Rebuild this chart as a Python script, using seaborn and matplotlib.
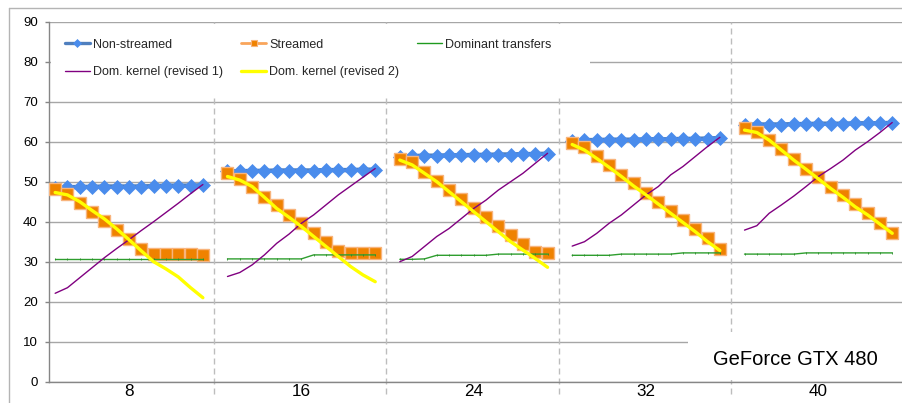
import numpy as np
import pandas as pd
import matplotlib
matplotlib.use("Agg")
import matplotlib.pyplot as plt
from matplotlib.lines import Line2D
from matplotlib.patches import Rectangle
import seaborn as sns

# ---- data -------------------------------------------------------------
GROUP_LABELS = ["8", "16", "24", "32", "40"]
POINTS_PER_GROUP = 13

NON_STREAMED = [
    [48.5, 48.6, 48.7, 48.7, 48.8, 48.8, 48.8, 48.8, 48.9, 49.0, 49.0, 49.0, 49.1],
    [52.6, 52.6, 52.7, 52.7, 52.8, 52.8, 52.8, 52.8, 52.9, 52.9, 52.9, 53.0, 53.0],
    [56.3, 56.4, 56.5, 56.5, 56.6, 56.6, 56.7, 56.7, 56.8, 56.8, 56.9, 56.9, 57.0],
    [60.3, 60.4, 60.4, 60.5, 60.5, 60.5, 60.6, 60.6, 60.6, 60.7, 60.7, 60.8, 60.9],
    [64.2, 64.3, 64.3, 64.3, 64.4, 64.4, 64.5, 64.5, 64.5, 64.6, 64.6, 64.6, 64.7],
]
STREAMED = [
    [48.3, 46.9, 44.6, 42.5, 40.3, 37.9, 35.8, 33.3, 32.0, 32.0, 32.0, 32.0, 31.7],
    [52.1, 50.7, 48.6, 46.3, 44.1, 41.8, 39.6, 37.2, 35.0, 32.8, 32.1, 32.1, 32.1],
    [55.8, 55.0, 52.5, 50.2, 47.9, 45.7, 43.5, 41.3, 39.0, 36.8, 34.4, 32.5, 32.1],
    [59.8, 58.8, 56.4, 54.1, 51.8, 49.6, 47.3, 45.0, 42.8, 40.4, 38.2, 35.9, 33.3],
    [63.5, 62.5, 60.4, 58.2, 55.6, 53.3, 51.1, 48.8, 46.7, 44.4, 42.3, 39.8, 37.1],
]
DOMINANT_TRANSFERS = [
    [30.7, 30.7, 30.7, 30.7, 30.7, 30.7, 30.7, 30.7, 30.7, 30.7, 30.7, 30.7, 30.7],
    [30.7, 30.7, 30.7, 30.7, 30.7, 30.7, 30.7, 31.7, 31.7, 31.7, 31.7, 31.7, 31.7],
    [30.6, 30.6, 30.7, 31.6, 31.6, 31.6, 31.6, 31.6, 31.9, 31.9, 31.9, 31.9, 31.9],
    [31.6, 31.6, 31.6, 31.6, 31.9, 31.9, 31.9, 31.9, 31.9, 32.2, 32.2, 32.2, 32.2],
    [31.9, 31.9, 31.9, 31.9, 31.9, 32.2, 32.2, 32.2, 32.2, 32.2, 32.2, 32.2, 32.2],
]
DOM_KERNEL_REV1 = [
    [22.1, 23.5, 26.0, 28.5, 31.0, 33.3, 35.5, 37.8, 40.0, 42.3, 44.6, 47.0, 49.3],
    [26.3, 27.3, 29.2, 31.7, 34.6, 36.9, 39.6, 41.7, 44.2, 46.7, 48.9, 51.1, 53.3],
    [30.0, 31.3, 33.8, 36.3, 38.3, 40.8, 43.3, 45.4, 47.9, 50.0, 52.1, 54.6, 57.1],
    [33.9, 35.0, 37.1, 39.6, 41.7, 44.2, 46.7, 48.8, 51.7, 53.8, 56.3, 58.8, 61.1],
    [37.9, 39.0, 42.1, 44.2, 46.4, 48.8, 51.3, 53.3, 55.4, 57.9, 60.0, 62.3, 64.8],
]
DOM_KERNEL_REV2 = [
    [47.3, 46.7, 45.0, 42.8, 40.7, 38.2, 35.5, 32.7, 30.0, 28.2, 26.2, 23.5, 21.0],
    [51.3, 50.4, 48.8, 46.1, 43.3, 41.1, 38.8, 36.3, 33.8, 31.3, 28.8, 26.7, 25.0],
    [55.4, 54.2, 52.1, 50.0, 47.5, 45.0, 42.5, 40.0, 37.5, 35.0, 32.9, 30.8, 28.6],
    [59.3, 57.9, 55.8, 53.6, 51.3, 48.9, 46.7, 44.4, 42.1, 39.8, 37.5, 35.0, 32.8],
    [62.9, 62.3, 60.4, 57.9, 55.4, 53.1, 50.7, 48.3, 46.1, 43.7, 41.7, 39.4, 37.1],
]

SERIES = [
    ("Non-streamed", NON_STREAMED),
    ("Streamed", STREAMED),
    ("Dominant transfers", DOMINANT_TRANSFERS),
    ("Dom. kernel (revised 1)", DOM_KERNEL_REV1),
    ("Dom. kernel (revised 2)", DOM_KERNEL_REV2),
]

# one empty category slot separates consecutive groups
SLOTS_PER_GROUP = POINTS_PER_GROUP + 1

rows = []
for name, groups in SERIES:
    for g, values in enumerate(groups):
        for i, v in enumerate(values):
            rows.append({"series": name, "group": g,
                         "x": g * SLOTS_PER_GROUP + i, "value": v})
df = pd.DataFrame(rows)

# ---- styles -----------------------------------------------------------
STYLES = {
    "Non-streamed": dict(color="#4F7FBE", lw=3.2, marker="D", ms=7.0,
                         markerfacecolor="#4A8CEC", mec="#4A8CEC", mew=0.5),
    "Streamed": dict(color="#F9A55B", lw=2.2, marker="s", ms=8.6,
                     markerfacecolor="#EF8200", mec="#F8B47C", mew=1.0),
    "Dominant transfers": dict(color="#2E9E2E", lw=1.0, marker="|", ms=2.0,
                               mec="#2A8A2A", mew=0.6),
    "Dom. kernel (revised 1)": dict(color="#800080", lw=1.0),
    "Dom. kernel (revised 2)": dict(color="#FFFF00", lw=2.4),
}
LEGEND_STYLES = {
    "Non-streamed": dict(color="#4F7FBE", lw=2.4, marker="D", ms=4.5,
                         markerfacecolor="#4A8CEC", mec="#4A8CEC", mew=0.5),
    "Streamed": dict(color="#F9A55B", lw=2.0, marker="s", ms=4.6,
                     markerfacecolor="#EF8200", mec="#F8B47C", mew=0.8),
    "Dominant transfers": dict(color="#1F9A1F", lw=1.0),
    "Dom. kernel (revised 1)": dict(color="#800080", lw=1.0),
    "Dom. kernel (revised 2)": dict(color="#FFFF00", lw=2.4),
}

sns.set_style("white")
plt.rcParams["font.family"] = ["Liberation Sans", "DejaVu Sans"]

W, H = 903, 403
fig = plt.figure(figsize=(W / 100, H / 100), dpi=100)

# plot area in pixels
AX_L, AX_R, AX_T, AX_B = 49, 903, 21.7, 381.7
ax = fig.add_axes([AX_L / W, (H - AX_B) / H, (AX_R - AX_L) / W, (AX_B - AX_T) / H])

slot_px = 12.31
ax.set_xlim(-0.5, (AX_R - AX_L) / slot_px - 0.5)
ax.set_ylim(0, 90)

for z, (name, _) in enumerate(SERIES):
    sub = df[df["series"] == name]
    sns.lineplot(data=sub, x="x", y="value", units="group", estimator=None,
                 ax=ax, legend=False, zorder=3 + z, **STYLES[name])

# grid and axes
ax.set_axisbelow(True)
ax.yaxis.grid(True, color="#A6A6A6", lw=1.0)
ax.xaxis.grid(False)
ax.set_yticks(np.arange(0, 91, 10))
ax.tick_params(axis="y", which="major", direction="out", length=3, width=1,
               color="#868686", pad=5, labelsize=9.5, labelcolor="#000000", left=True)
centers = [g * SLOTS_PER_GROUP + (POINTS_PER_GROUP - 1) / 2 for g in range(len(GROUP_LABELS))]
ax.set_xticks(centers)
ax.set_xticklabels(GROUP_LABELS)
ax.tick_params(axis="x", length=0, pad=1.5, labelsize=12.3, labelcolor="#000000")
ax.set_xlabel("")
ax.set_ylabel("")
for s in ("top", "right"):
    ax.spines[s].set_visible(False)
for s in ("left", "bottom"):
    ax.spines[s].set_color("#868686")
    ax.spines[s].set_linewidth(1.0)

# dashed separators between the group blocks
for g in range(1, len(GROUP_LABELS)):
    xs = g * SLOTS_PER_GROUP - 1.1
    ax.plot([xs, xs], [-3, 90], ls=(0, (4.3, 2.9)), color="#BDBDBD", lw=1.0,
            clip_on=False, zorder=1.2)

# legend panel (opaque, hides grid and separators behind it)
x_leg_r = (588 - AX_L) / (AX_R - AX_L)
y_leg_b = (AX_B - 95) / (AX_B - AX_T)
y_leg_t = (AX_B - 24) / (AX_B - AX_T)
ax.add_patch(Rectangle((0.002, y_leg_b), x_leg_r, y_leg_t - y_leg_b,
                       transform=ax.transAxes, facecolor="white",
                       edgecolor="none", zorder=2))

order = ["Non-streamed", "Dom. kernel (revised 1)", "Streamed",
         "Dom. kernel (revised 2)", "Dominant transfers"]
handles = [Line2D([], [], **LEGEND_STYLES[n]) for n in order]
fig.legend(handles, order, loc="upper left",
           bbox_to_anchor=(65 / W, 1 - 38.5 / H), ncol=3, frameon=False,
           fontsize=9, borderpad=0, borderaxespad=0, handlelength=2.0,
           handletextpad=0.24, columnspacing=1.44, labelspacing=1.24)

# caption panel
x_cap_l = (688 - AX_L) / (AX_R - AX_L)
y_cap_t = (AX_B - 332) / (AX_B - AX_T)
ax.add_patch(Rectangle((x_cap_l, 0.004), 1 - x_cap_l, y_cap_t - 0.004,
                       transform=ax.transAxes, facecolor="white",
                       edgecolor="none", zorder=2))
ax.text((795.5 - AX_L) / (AX_R - AX_L), (AX_B - 365) / (AX_B - AX_T),
        "GeForce GTX 480", transform=ax.transAxes, ha="center",
        va="baseline", fontsize=14.5, color="#000000", zorder=10)

# chart-area border
fig.add_artist(Line2D([9.5 / W, 9.5 / W], [0, 1 - 7.5 / H], color="#B4B4B4", lw=1.0))
fig.add_artist(Line2D([9.5 / W, 1], [1 - 7.5 / H, 1 - 7.5 / H], color="#B4B4B4", lw=1.0))

fig.savefig("out.png", dpi=100)
